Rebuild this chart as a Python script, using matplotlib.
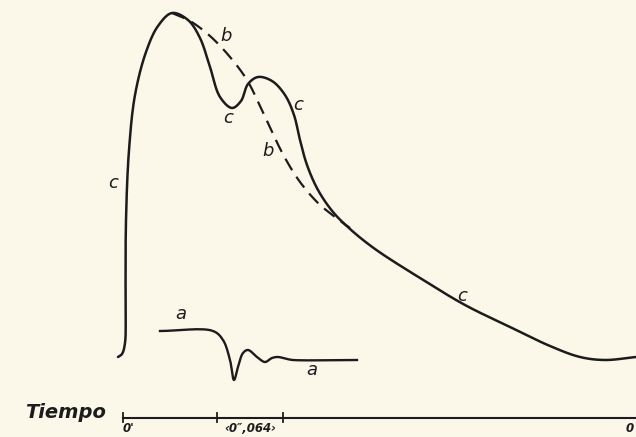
import numpy as np
import matplotlib
matplotlib.use("Agg")
import matplotlib.pyplot as plt

# curve c (solid): x, y in image units (y downward)
c_x = [118, 122, 125, 125.5, 126, 129, 135, 146, 158, 172, 188, 200, 210, 220,
       232, 241, 248, 258, 272, 285, 294, 300, 307, 318, 333, 350, 375,
       420, 465, 510, 550, 580, 605, 636]
c_y = [357, 354, 343, 300, 220, 150, 95, 52, 26, 13, 20, 38, 67, 97,
       108, 101, 84, 77, 81, 95, 115, 140, 165, 190, 212, 229, 249,
       278, 305, 327, 346, 357, 360, 357]

# curve b (dashed)
b_x = [172, 190, 210, 230, 247, 260, 272, 285, 300, 318, 335, 350]
b_y = [13, 21, 36, 57, 80, 106, 132, 158, 182, 203, 217, 228]

# trace a (inset)
a_x = [160, 213, 223, 230, 234, 238, 243, 248, 257, 265, 272, 278, 287, 293, 357]
a_y = [331, 331, 340, 360, 380, 367, 353, 350, 357, 362, 358, 357, 359, 360, 360]

# labels
labels = [("c", 113, 183), ("b", 226, 36), ("c", 228, 118), ("c", 298, 105),
          ("b", 268, 151), ("c", 462, 296), ("a", 181, 314), ("a", 312, 370)]

# time axis
axis_start, axis_end, axis_y = 123, 636, 418
tick_x = [123, 217, 283]
tick_labels = [("0'", 128), ("\u20390\u2033,064\u203a", 250), ("0", 630)]


def smooth(xs, ys, n=16):
    # centripetal Catmull-Rom through the traced points
    p = np.column_stack([xs, ys]).astype(float)
    p = np.vstack([2 * p[0] - p[1], p, 2 * p[-1] - p[-2]])
    out = []
    for i in range(1, len(p) - 2):
        p0, p1, p2, p3 = p[i - 1], p[i], p[i + 1], p[i + 2]
        t0 = 0.0
        t1 = t0 + np.linalg.norm(p1 - p0) ** 0.5
        t2 = t1 + np.linalg.norm(p2 - p1) ** 0.5
        t3 = t2 + np.linalg.norm(p3 - p2) ** 0.5
        t = np.linspace(t1, t2, n, endpoint=False)[:, None]
        a1 = (t1 - t) / (t1 - t0) * p0 + (t - t0) / (t1 - t0) * p1
        a2 = (t2 - t) / (t2 - t1) * p1 + (t - t1) / (t2 - t1) * p2
        a3 = (t3 - t) / (t3 - t2) * p2 + (t - t2) / (t3 - t2) * p3
        b1 = (t2 - t) / (t2 - t0) * a1 + (t - t0) / (t2 - t0) * a2
        b2 = (t3 - t) / (t3 - t1) * a2 + (t - t1) / (t3 - t1) * a3
        out.append((t2 - t) / (t2 - t1) * b1 + (t - t1) / (t2 - t1) * b2)
    out.append(p[-2][None, :])
    out = np.vstack(out)
    return out[:, 0], out[:, 1]


ink = "#1c1c1c"
paper = "#fbf8ea"
fig = plt.figure(figsize=(6.36, 4.37), dpi=100)
fig.patch.set_facecolor(paper)
ax = fig.add_axes([0, 0, 1, 1])
ax.set_facecolor(paper)
ax.set_xlim(0, 636)
ax.set_ylim(437, 0)
ax.axis("off")

x, y = smooth(c_x, c_y)
ax.plot(x, y, color=ink, lw=1.8, solid_capstyle="round", solid_joinstyle="round")
x, y = smooth(b_x, b_y)
ax.plot(x, y, color=ink, lw=1.6, dashes=(6, 3.5))
x, y = smooth(a_x, a_y)
ax.plot(x, y, color=ink, lw=1.7, solid_joinstyle="round")

for txt, lx, ly in labels:
    ax.text(lx, ly, txt, fontsize=13, style="italic", color=ink,
            ha="center", va="center", family="DejaVu Sans")

ax.plot([axis_start, axis_end], [axis_y, axis_y], color=ink, lw=1.5)
for tx in tick_x:
    ax.plot([tx, tx], [axis_y - 5, axis_y + 4], color=ink, lw=1.3)
for txt, tx in tick_labels:
    ax.text(tx, axis_y + 11, txt, fontsize=8.5, style="italic", color=ink,
            ha="center", va="center", family="DejaVu Sans", weight="bold")
ax.text(65, 413, "Tiempo", fontsize=14, style="italic", weight="bold",
        color=ink, ha="center", va="center", family="DejaVu Sans")

fig.savefig("out.png", dpi=100, facecolor=fig.get_facecolor())
